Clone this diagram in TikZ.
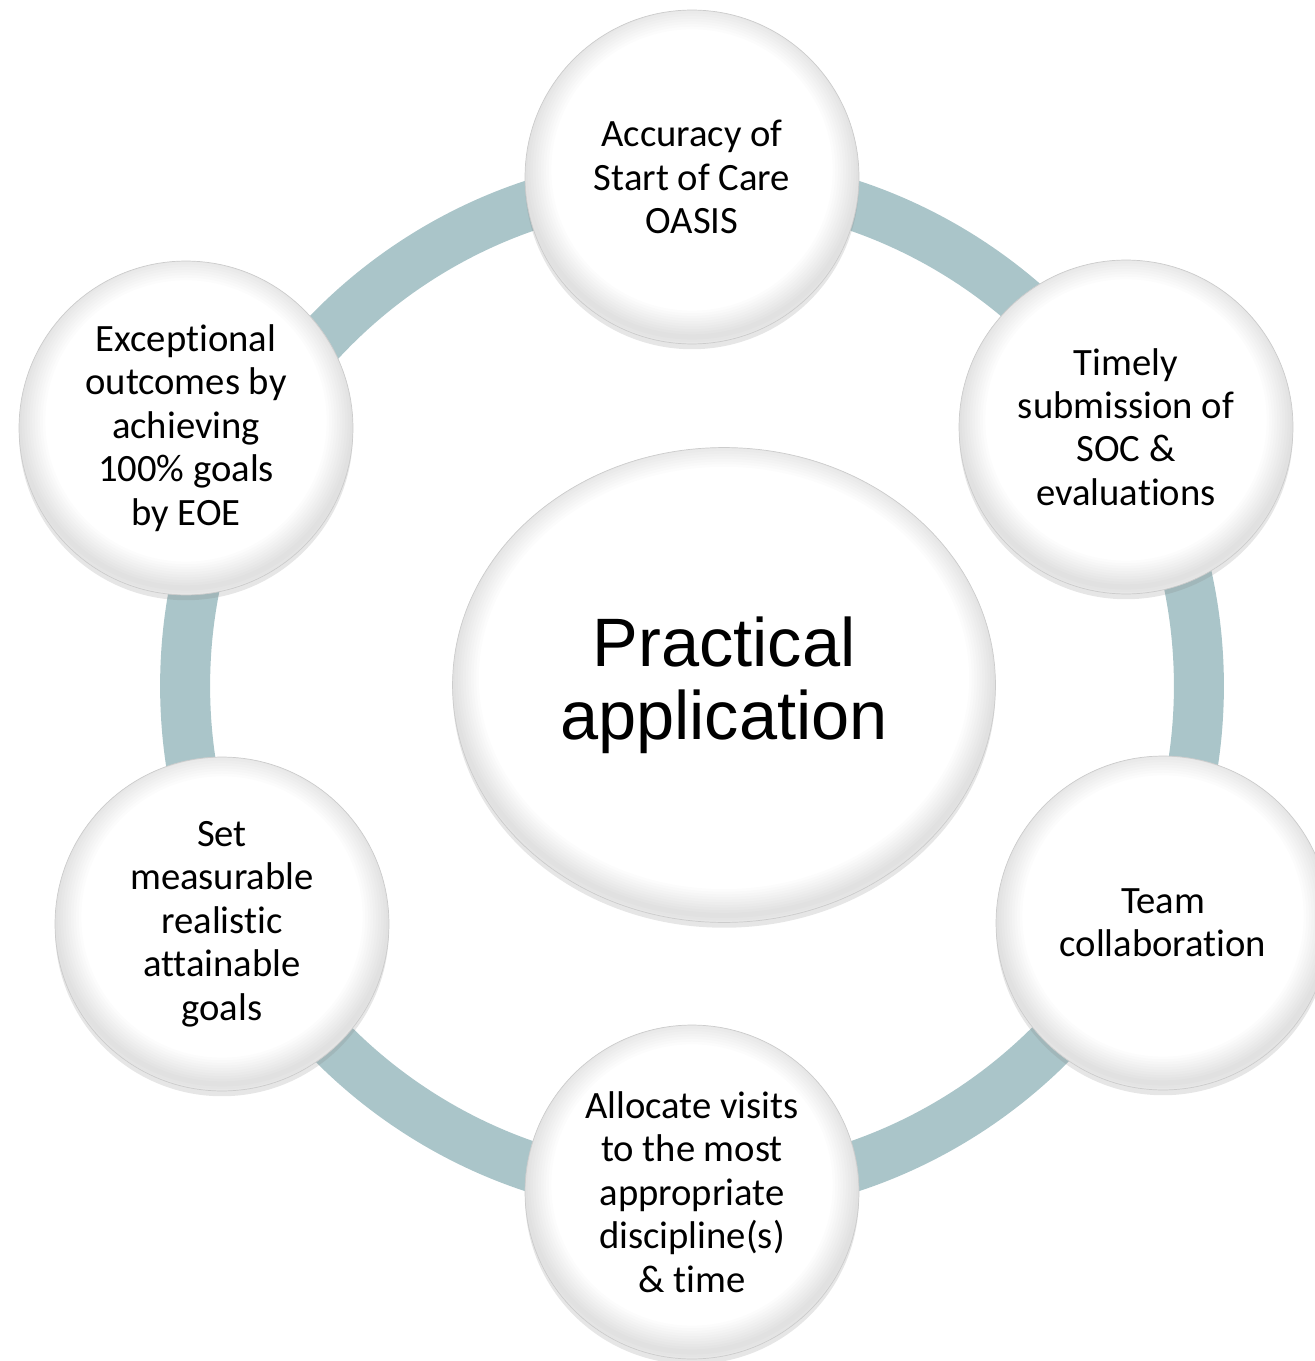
\documentclass[tikz,border=0pt]{standalone}
\usepackage{fontspec}
\setmainfont{Carlito}[RawFeature={-liga;-clig;-calt;-dlig;-rlig}]
\newfontfamily\hubfont{Liberation Sans}
\usetikzlibrary{shapes.geometric,shadows}

\definecolor{ringblue}{RGB}{170,197,201}

\begin{document}
\begin{tikzpicture}[
		x=0.02cm, y=-0.02cm,
		ring/.style={draw=ringblue, line width=1cm},
		button/.style 2 args={fill=white, draw=black!20, line width=0.4pt, drop shadow={shadow xshift=0pt, shadow yshift=-3pt, opacity=0.2},
			path picture={\foreach \w in {3,6,...,30} \draw[black, opacity=0.011, line width=\w pt] ([yshift=4pt]path picture bounding box.center) ellipse [x radius=#1, y radius=#2];}},
		bubble/.style={circle, button={3.34cm}{3.34cm}, minimum size=6.68cm, inner sep=0pt, align=center, font=\fontsize{22}{24.7}\selectfont},
		hub/.style={ellipse, button={5.43cm}{4.75cm}, minimum width=10.86cm, minimum height=9.5cm, inner sep=0pt, align=center, font=\hubfont\fontsize{39}{41.5}\selectfont},
	]
		\useasboundingbox (0,0) rectangle (1314,1361);

		\coordinate (ring centre) at (692,686);
		\draw[ring] (ring centre) circle [radius=10.14cm];

		\node (hub) [hub] at (724,685) {Practical\\application};

		\node (goal accuracy) [bubble] at (692,177) {Accuracy of\\Start of Care\\OASIS};
		\node (goal timely) [bubble] at (1126,427) {Timely\\submission of\\SOC \&\\evaluations};
		\node (goal team) [bubble] at (1163,923) {Team\\collaboration};
		\node (goal visits) [bubble] at (692,1192) {Allocate visits\\to the most\\appropriate\\discipline(s)\\\& time};
		\node (goal measurable) [bubble] at (222,924) {Set\\measurable\\realistic\\attainable\\goals};
		\node (goal outcomes) [bubble] at (186,428) {Exceptional\\outcomes by\\achieving\\100\% goals\\by EOE};
	\end{tikzpicture}
\end{document}
